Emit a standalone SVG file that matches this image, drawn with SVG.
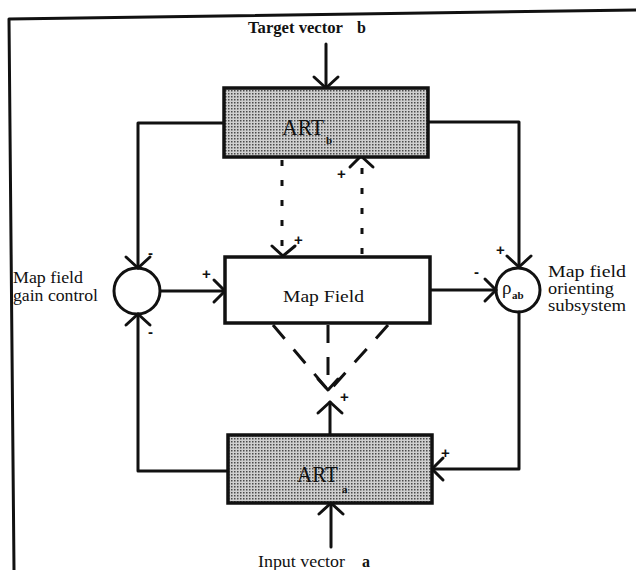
<svg xmlns="http://www.w3.org/2000/svg" width="636" height="570" viewBox="0 0 636 570">
<defs>
<pattern id="dots" width="3" height="3" patternUnits="userSpaceOnUse">
<rect width="3" height="3" fill="#cfcfcf"/>
<rect x="0" y="0" width="1.5" height="1.5" fill="#4a4a4a"/>
</pattern>
<style>
.ln{stroke:#111;stroke-width:3;fill:none;stroke-linecap:round;stroke-linejoin:round}
.box{stroke:#111;stroke-width:3.5}
.dot{stroke:#111;stroke-width:3;fill:none;stroke-dasharray:6 14}
.dash{stroke:#111;stroke-width:3;fill:none;stroke-dasharray:18 14}
.t{font-family:"Liberation Serif",serif;fill:#111}
.sg{font-family:"Liberation Sans",sans-serif;font-size:15px;font-weight:bold;fill:#111}
</style>
</defs>
<rect width="636" height="570" fill="#fff"/>
<polyline class="ln" points="14,570 9,19 636,10"/>

<g id="connectors">
<!-- target vector b -->
<line class="ln" x1="326" y1="44" x2="326" y2="88"/>
<polyline class="ln" points="314,77 326,88 338,77"/>
<!-- left loop -->
<polyline class="ln" points="224,123 138,123 138,268"/>
<polyline class="ln" points="126,257 138,268 150,257"/>
<polyline class="ln" points="228,471 138,471 138,314"/>
<polyline class="ln" points="126,325 138,314 150,325"/>
<!-- gain control to map field -->
<line class="ln" x1="161" y1="291" x2="225" y2="291"/>
<polyline class="ln" points="214,280 225,291 214,302"/>
<!-- right loop -->
<polyline class="ln" points="428,122 519,122 519,267"/>
<polyline class="ln" points="507,256 519,267 531,256"/>
<polyline class="ln" points="519,312 519,469 432,469"/>
<polyline class="ln" points="443,458 432,469 443,480"/>
<!-- map field to orienting -->
<line class="ln" x1="430" y1="290" x2="496" y2="290"/>
<polyline class="ln" points="485,279 496,290 485,301"/>
<!-- dotted between ART_b and map field -->
<line class="dot" x1="282" y1="160" x2="282" y2="254"/>
<polyline class="ln" points="272,246 283,256 295,246"/>
<line class="dot" x1="362" y1="254" x2="362" y2="162"/>
<polyline class="ln" points="350,167 361,156 373,167"/>
<!-- dashed from map field down -->
<line class="dash" x1="273" y1="325" x2="328" y2="390"/>
<line class="dash" x1="328" y1="325" x2="328" y2="390"/>
<line class="dash" x1="388" y1="325" x2="330" y2="390"/>
<polyline class="ln" points="318,379 328,390 338,379"/>
<!-- ART_a up -->
<line class="ln" x1="330" y1="402" x2="330" y2="435"/>
<polyline class="ln" points="318,413 330,402 342,413"/>
<!-- input vector a -->
<line class="ln" x1="331" y1="547" x2="331" y2="504"/>
<polyline class="ln" points="319,514 331,503 343,514"/>
</g>

<g id="signs">
<text class="sg" x="148" y="258">-</text>
<text class="sg" x="148" y="337">-</text>
<text class="sg" x="202" y="279">+</text>
<text class="sg" x="496" y="255">+</text>
<text class="sg" x="474" y="277">-</text>
<text class="sg" x="294" y="245">+</text>
<text class="sg" x="337" y="179">+</text>
<text class="sg" x="340" y="402">+</text>
<text class="sg" x="441" y="458">+</text>
</g>

<g id="target-label">
<text class="t" x="248" y="33" font-size="16" font-weight="bold" textLength="95" lengthAdjust="spacingAndGlyphs">Target vector</text>
<text class="t" x="357" y="33" font-size="16" font-weight="bold">b</text>
</g>

<g id="art-b">
<rect class="box" x="224" y="88" width="204" height="69" fill="url(#dots)"/>
<text class="t" x="282" y="135" font-size="23" textLength="42" lengthAdjust="spacingAndGlyphs">ART</text>
<text class="t" x="326" y="144" font-size="11" font-weight="bold">b</text>
</g>

<g id="gain-control">
<circle class="ln" cx="137" cy="291" r="23" fill="#fff"/>
<text class="t" x="13" y="283" font-size="17" textLength="70" lengthAdjust="spacingAndGlyphs">Map field</text>
<text class="t" x="13" y="301" font-size="17" textLength="85" lengthAdjust="spacingAndGlyphs">gain control</text>
</g>

<g id="map-field">
<rect class="box" x="225" y="257" width="205" height="66" fill="#fff"/>
<text class="t" x="283" y="302" font-size="16" textLength="81" lengthAdjust="spacingAndGlyphs">Map Field</text>
</g>

<g id="orienting">
<circle class="ln" cx="518" cy="290" r="22" fill="#fff"/>
<text class="t" x="502" y="294" font-size="19">ρ</text>
<text class="t" x="512" y="299" font-size="11" font-weight="bold">ab</text>
<text class="t" x="548" y="277" font-size="16" textLength="78" lengthAdjust="spacingAndGlyphs">Map field</text>
<text class="t" x="548" y="294" font-size="16" textLength="66" lengthAdjust="spacingAndGlyphs">orienting</text>
<text class="t" x="548" y="311" font-size="16" textLength="78" lengthAdjust="spacingAndGlyphs">subsystem</text>
</g>

<g id="art-a">
<rect class="box" x="228" y="435" width="204" height="68" fill="url(#dots)"/>
<text class="t" x="297" y="482" font-size="23" textLength="41" lengthAdjust="spacingAndGlyphs">ART</text>
<text class="t" x="342" y="493" font-size="11" font-weight="bold">a</text>
</g>

<g id="input-label">
<text class="t" x="258" y="567" font-size="16" textLength="87" lengthAdjust="spacingAndGlyphs">Input vector</text>
<text class="t" x="362" y="567" font-size="16" font-weight="bold">a</text>
</g>
</svg>
